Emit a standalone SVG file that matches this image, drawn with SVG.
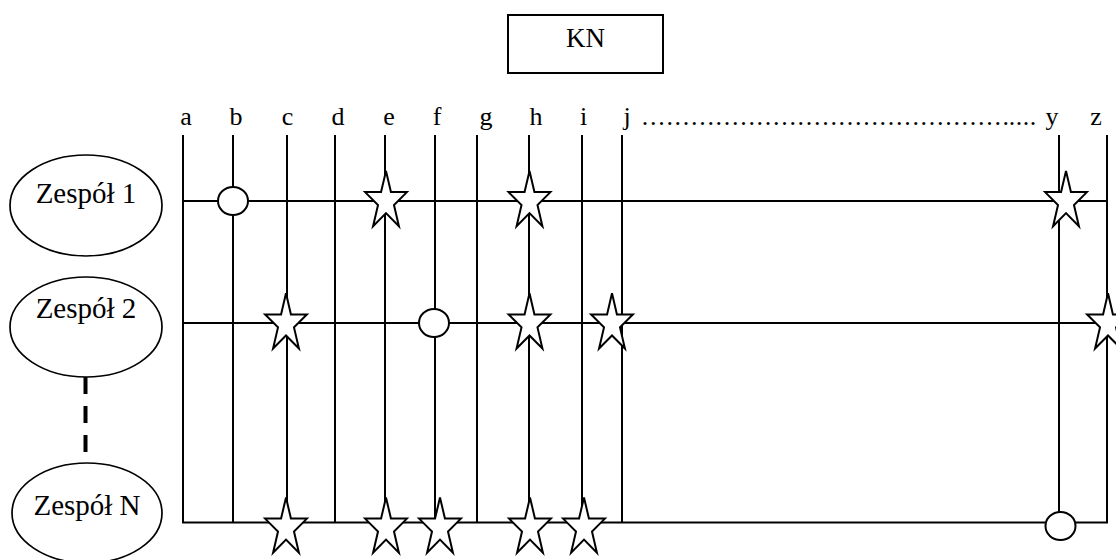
<svg xmlns="http://www.w3.org/2000/svg" xmlns:xlink="http://www.w3.org/1999/xlink" width="1116" height="560" viewBox="0 0 1116 560">
  <style>
    .txt { font-family: "Liberation Serif", "Times New Roman", serif; fill: #000; }
    .lbl { font-size: 26px; text-anchor: middle; }
    .team { font-size: 29px; text-anchor: middle; }
    .line { stroke: #000; stroke-width: 2; fill: none; }
    .node { stroke: #000; stroke-width: 1.7; fill: #fff; }
    .mark { stroke: #000; stroke-width: 2; fill: #fff; stroke-linejoin: miter; }
  </style>
  <defs>
    <!-- five-pointed star, centred on its origin -->
    <path id="star" d="M0,-30.5 L4.94,-9.42 L20.92,-9.42 L7.99,3.6 L12.93,24.67 L0,11.65 L-12.93,24.67 L-7.99,3.6 L-20.92,-9.42 L-4.94,-9.42 Z"/>
    <ellipse id="ring" cx="0" cy="0" rx="15" ry="14"/>
  </defs>
  <rect width="1116" height="560" fill="#fff"/>

  <!-- KN box -->
  <g id="kn">
    <rect x="508" y="15" width="155" height="58" fill="#fff" stroke="#000" stroke-width="2"/>
    <text class="txt" x="585.5" y="47" font-size="27" text-anchor="middle">KN</text>
  </g>

  <!-- column labels -->
  <g id="columns">
    <text class="txt lbl" x="186" y="125">a</text>
    <text class="txt lbl" x="236" y="125">b</text>
    <text class="txt lbl" x="287.5" y="125">c</text>
    <text class="txt lbl" x="338" y="125">d</text>
    <text class="txt lbl" x="389" y="125">e</text>
    <text class="txt lbl" x="437" y="125">f</text>
    <text class="txt lbl" x="486" y="125">g</text>
    <text class="txt lbl" x="536" y="125">h</text>
    <text class="txt lbl" x="583.5" y="125">i</text>
    <text class="txt lbl" x="627" y="125">j</text>
    <text class="txt" x="641.8" y="125" font-size="26" letter-spacing="1.7">.............................................</text>
    <text class="txt" x="1008.7" y="125" font-size="26" letter-spacing="0.5">....</text>
    <text class="txt lbl" x="1052" y="125">y</text>
    <text class="txt lbl" x="1096" y="125">z</text>
  </g>

  <!-- teams -->
  <g id="team1">
    <ellipse class="node" cx="86" cy="205.5" rx="76" ry="50.5"/>
    <text class="txt team" x="86" y="203">Zespół 1</text>
  </g>
  <g id="team2">
    <ellipse class="node" cx="86" cy="327" rx="76" ry="50"/>
    <text class="txt team" x="86" y="318">Zespół 2</text>
  </g>
  <g id="teamN">
    <ellipse class="node" cx="87" cy="513" rx="75" ry="50"/>
    <text class="txt team" x="87" y="515">Zespół N</text>
  </g>

  <!-- connectors: column lines, team rows, ellipsis link -->
  <g id="connectors">
    <g class="line">
      <line x1="183" y1="135" x2="183" y2="523"/>
      <line x1="233" y1="135" x2="233" y2="523"/>
      <line x1="287" y1="135" x2="287" y2="523"/>
      <line x1="335" y1="135" x2="335" y2="523"/>
      <line x1="385" y1="135" x2="385" y2="523"/>
      <line x1="435" y1="135" x2="435" y2="523"/>
      <line x1="477" y1="135" x2="477" y2="523"/>
      <line x1="529" y1="135" x2="529" y2="523"/>
      <line x1="582" y1="135" x2="582" y2="523"/>
      <line x1="622" y1="135" x2="622" y2="523"/>
      <line x1="1059" y1="135" x2="1059" y2="523"/>
      <line x1="1107" y1="135" x2="1107" y2="523"/>
      <line x1="182" y1="201" x2="1107" y2="201"/>
      <line x1="182" y1="323" x2="1116" y2="323"/>
      <line x1="182" y1="522.5" x2="1108" y2="522.5"/>
    </g>
    <line x1="85.5" y1="377" x2="85.5" y2="463" stroke="#000" stroke-width="4" stroke-dasharray="17 12"/>
  </g>

  <!-- row 1 marks -->
  <g id="marks-row1" class="mark">
    <use xlink:href="#ring" x="233" y="201"/>
    <use xlink:href="#star" x="386" y="201.5"/>
    <use xlink:href="#star" x="529.5" y="201.5"/>
    <use xlink:href="#star" x="1066" y="201.5"/>
  </g>

  <!-- row 2 marks -->
  <g id="marks-row2" class="mark">
    <use xlink:href="#star" x="286" y="323.8"/>
    <use xlink:href="#ring" x="434" y="323"/>
    <use xlink:href="#star" x="529.5" y="323.8"/>
    <use xlink:href="#star" x="612" y="323.8"/>
    <use xlink:href="#star" x="1108" y="323.8"/>
  </g>

  <!-- row N marks -->
  <g id="marks-rowN" class="mark">
    <use xlink:href="#star" x="286" y="528"/>
    <use xlink:href="#star" x="386" y="528"/>
    <use xlink:href="#star" x="440" y="528"/>
    <use xlink:href="#star" x="530" y="528"/>
    <use xlink:href="#star" x="584" y="528"/>
    <use xlink:href="#ring" x="1060.5" y="526"/>
  </g>
</svg>
